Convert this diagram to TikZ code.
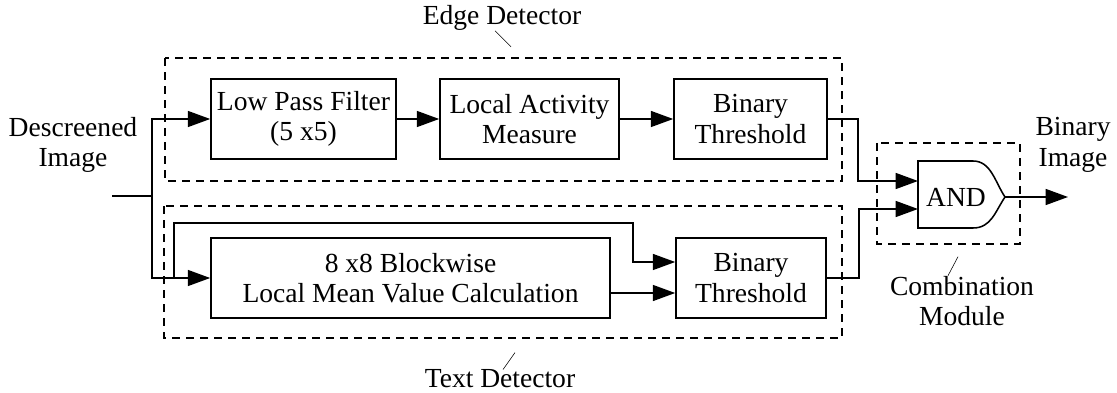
\documentclass[tikz,border=0pt]{standalone}
\usepackage{fontspec}
\setmainfont{Liberation Serif}
\usetikzlibrary{arrows.meta,positioning,calc}

\begin{document}
\begin{tikzpicture}[
    x=0.025cm, y=-0.025cm,
    font=\fontsize{19.6}{21.8}\selectfont,
    box/.style={rectangle, draw, line width=1.1pt, minimum height=2cm, inner sep=0pt, align=center},
    lbl/.style={align=center, inner sep=0pt},
    group/.style={draw, dash pattern=on 0.2cm off 0.15cm, line width=1.1pt},
    arr/.style={-{Triangle[length=0.56cm,width=0.4cm]}, line width=1.1pt},
    wire/.style={line width=1.1pt}
  ]
  \useasboundingbox (0,0) rectangle (1117,393);
  % dashed groups
  \draw[group] (165,58) rectangle (842,181);
  \draw[group] (164,206) rectangle (842,338);
  \draw[group] (877,143) rectangle (1020,244);
  % blocks
  \node[box, minimum width=4.625cm] (lpf) at (303.5,119) {Low Pass Filter\\(5 x5)};
  \node[box, minimum width=4.475cm] (lam) at (529.5,119) {Local Activity\\Measure};
  \node[box, minimum width=3.825cm] (bt1) at (750.5,119) {Binary\\Threshold};
  \node[box, minimum width=9.975cm] (blk) at (410.5,278) {8 x8 Blockwise\\Local Mean Value Calculation};
  \node[box, minimum width=3.75cm] (bt2) at (751,278) {Binary\\Threshold};
  % and gate
  \node[lbl] (and) at (956,197) {AND};
  \coordinate (in1) at (918,181);
  \coordinate (in2) at (918,209);
  \coordinate (tip) at (1005,197);
  \draw[wire] (918,228) -- (918,161) -- (973,161)
    .. controls (991,161) and (995,182) .. (tip)
    .. controls (995,212) and (991,228) .. (973,228) -- cycle;
  % labels
  \node[lbl] (src) at (73,145) {Descreened\\Image};
  \node[lbl] (dst) at (1073,145) {Binary\\Image};
  \node[lbl] (edgelbl) at (502,18) {Edge Detector};
  \node[lbl] (txtlbl) at (500,379) {Text Detector};
  \node[lbl] (comblbl) at (962,301) {Combination\\Module};
  \draw ([xshift=-0.175cm]edgelbl.south) -- ++(0.4cm,-0.4cm);
  \draw ([xshift=0.075cm]txtlbl.north) -- ++(0.3cm,0.425cm);
  \draw ([xshift=-0.35cm]comblbl.north) -- ++(0.25cm,0.475cm);
  % connections
  \coordinate (in) at (112,196);
  \coordinate (split) at (152,196);
  \coordinate (tap) at (174,278);
  \coordinate (out) at (1068,197);
  \draw[wire] (in) -- (split);
  \draw[arr] (split) |- (lpf.west);
  \draw[arr] (split) |- (blk.west);
  \draw[arr] (tap) |- (633,223) |- ([yshift=0.4cm]bt2.west);
  \draw[arr] ([yshift=-0.375cm]blk.east) -- ([yshift=-0.375cm]blk.east -| bt2.west);
  \foreach \i/\j in {lpf/lam,lam/bt1}
    \draw[arr] (\i) -- (\j);
  \draw[arr] (bt1.east) -- (858,119) |- (in1);
  \draw[arr] (bt2.east) -- (859,278) |- (in2);
  \draw[arr] (tip) -- (out);
\end{tikzpicture}
\end{document}
